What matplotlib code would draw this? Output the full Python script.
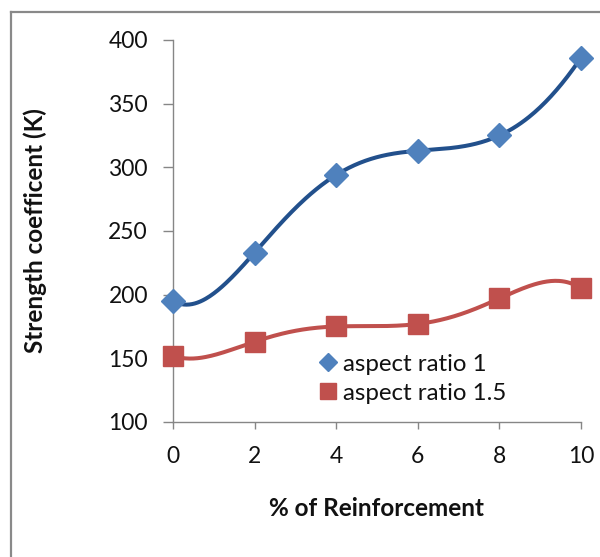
import numpy as np
import matplotlib.pyplot as plt
from matplotlib.lines import Line2D

reinforcement = [0, 2, 4, 6, 8, 10]
k_ratio_1 = [195, 233, 294, 313, 325, 386]
k_ratio_15 = [152, 163, 175, 177, 197, 205]
y_ticks = [100, 150, 200, 250, 300, 350, 400]
x_ticks = [0, 2, 4, 6, 8, 10]

plt.rcParams['font.family'] = ['Lato', 'DejaVu Sans']

fig = plt.figure(figsize=(6.0, 5.57), dpi=100)
ax = fig.add_axes([0.2883, 0.2424, 0.68, 0.6858])

# polynomial trendlines through each series
xs = np.linspace(0, 10, 300)
for ys, col in [(k_ratio_1, '#22508C'), (k_ratio_15, '#C0504D')]:
    coef = np.polyfit(reinforcement, ys, 5)
    ax.plot(xs, np.polyval(coef, xs), color=col, lw=2.9, zorder=2, solid_capstyle='round')

ax.plot(reinforcement, k_ratio_1, 'D', color='#4F81BD', ms=12, mec='#4F81BD',
        ls='none', label='aspect ratio 1', zorder=3)
ax.plot(reinforcement, k_ratio_15, 's', color='#C0504D', ms=14, mec='#C0504D',
        ls='none', label='aspect ratio 1.5', zorder=3)

ax.set_xlim(0, 10)
ax.set_ylim(100, 400)
ax.set_xticks(x_ticks)
ax.set_yticks(y_ticks)
for ln in ax.lines:
    ln.set_clip_on(False)

for s in ['top', 'right']:
    ax.spines[s].set_visible(False)
for s in ['left', 'bottom']:
    ax.spines[s].set_color('#868686')
    ax.spines[s].set_linewidth(1.0)
ax.tick_params(axis='y', direction='out', length=7, width=1, color='#868686',
               labelsize=16.5, pad=11, labelcolor='#111111')
ax.tick_params(axis='x', direction='out', length=5, width=1, color='#868686',
               labelsize=16.5, pad=12, labelcolor='#111111')

ax.set_xlabel('% of Reinforcement', fontsize=17.5, fontweight='bold', color='#111111')
ax.set_ylabel('Strength coefficent (K)', fontsize=17.5, fontweight='bold', color='#111111')
ax.xaxis.set_label_coords(0.5, -0.196)
ax.yaxis.set_label_coords(-0.309, 0.5)

ax.legend(loc='center left', bbox_to_anchor=(0.335, 0.113), frameon=False,
          fontsize=17.3, handlelength=0.7, handletextpad=0.3, labelspacing=0.33,
          borderaxespad=0, labelcolor='#111111', markerscale=0.8)

# outer chart border (top and left edges)
fig.add_artist(Line2D([10.5 / 600, 1.0], [1 - 11.5 / 557] * 2, transform=fig.transFigure,
                      color='#898989', lw=1.6))
fig.add_artist(Line2D([10.5 / 600] * 2, [0.0, 1 - 11.5 / 557], transform=fig.transFigure,
                      color='#898989', lw=1.6))

fig.savefig('out.png', dpi=100)
